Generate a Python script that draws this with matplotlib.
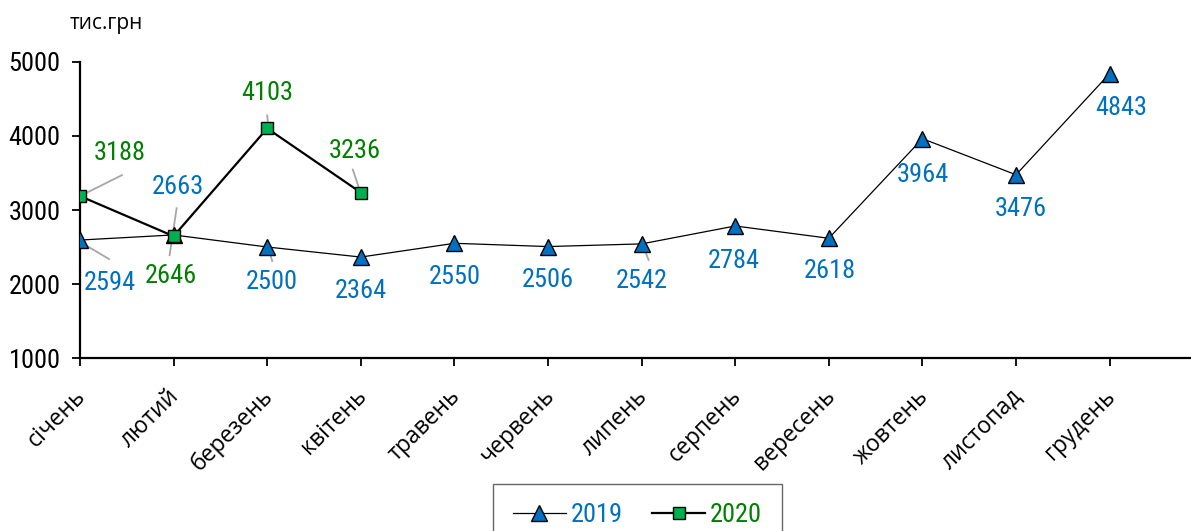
import matplotlib
matplotlib.use("Agg")
import matplotlib.pyplot as plt
from matplotlib import font_manager as fm
from matplotlib.lines import Line2D
from matplotlib.transforms import ScaledTranslation

names = {f.name for f in fm.fontManager.ttflist}
narrow = [n for n in ["Liberation Sans Narrow", "Roboto Condensed", "Open Sans Condensed"] if n in names]
NARROW = narrow + ["DejaVu Sans"] if narrow else ["DejaVu Sans"]
REG = ["Open Sans", "DejaVu Sans"]

months = ["січень", "лютий", "березень", "квітень", "травень", "червень",
          "липень", "серпень", "вересень", "жовтень", "листопад", "грудень"]
v2019 = [2594, 2663, 2500, 2364, 2550, 2506, 2542, 2784, 2618, 3964, 3476, 4843]
v2020 = [3188, 2646, 4103, 3236]
yticks = [1000, 2000, 3000, 4000, 5000]

BLUE = "#0070C0"
GREEN_M = "#00B050"
GREEN_T = "#008000"
LEAD = "#A6A6A6"

fig = plt.figure(figsize=(11.91, 5.31), dpi=100)
ax = fig.add_axes([80/1191, 173/531, 1111/1191, (358-62)/531])

x19 = list(range(len(v2019)))
x20 = list(range(len(v2020)))
l19, = ax.plot(x19, v2019, color="black", lw=0.9, marker="^", ms=11,
               mfc=BLUE, mec="black", mew=1.0, label="2019", zorder=3)
l20, = ax.plot(x20, v2020, color="black", lw=1.6, marker="s", ms=8.5,
               mfc=GREEN_M, mec="black", mew=1.0, label="2020", zorder=4)

ax.set_xlim(0, 1111/93.6)
ax.set_ylim(1000, 5000)
ax.set_yticks(yticks)
ax.set_xticks(x19)
ax.set_xticklabels(months, rotation=45, ha="right", rotation_mode="anchor",
                   fontsize=16.5, family=REG)
ax.set_yticklabels([str(t) for t in yticks], family=NARROW, fontsize=19)
ax.tick_params(axis="x", length=6, width=1.3, pad=13, direction="out")
ax.tick_params(axis="y", length=6, width=1.3, pad=8, direction="out")
shift = ScaledTranslation(-6/100, 0, fig.dpi_scale_trans)
for lab in ax.get_xticklabels():
    lab.set_transform(lab.get_transform() + shift)
for s in ["top", "right"]:
    ax.spines[s].set_visible(False)
for s in ["left", "bottom"]:
    ax.spines[s].set_linewidth(1.6)

# label offsets (pixels) for 2019 and 2020
off19 = [(30, -43), (4, 48), (5, -35), (0, -34), (0, -34), (0, -33),
         (0, -37), (-1, -35), (1, -33), (0, -36), (5, -34), (12, -34)]
off20 = [(40, 43), (-3, -40), (0, 35), (-6, 42)]
lead19 = {0: ((2, -3), (29, -19)), 2: ((2, -4), (5, -14)), 6: ((1, -1), (7, -16))}
lead20 = {0: ((2, 1), (42, 21)), 1: ((3, 28), (-4, -19)), 2: ((0, 13), (1, 3)),
          3: ((-8, 23), (-1, 2))}

for i, v in enumerate(v2019):
    dx, dy = off19[i]
    ax.annotate(str(v), (i, v), xytext=(dx, dy), textcoords="offset pixels",
                ha="center", va="center", color=BLUE, fontsize=19,
                family=NARROW, annotation_clip=False)
for i, v in enumerate(v2020):
    dx, dy = off20[i]
    ax.annotate(str(v), (i, v), xytext=(dx, dy), textcoords="offset pixels",
                ha="center", va="center", color=GREEN_T, fontsize=19,
                family=NARROW, annotation_clip=False)

def seg(i, v, a, b):
    p0 = ax.transData.transform((i, v))
    ln = Line2D([p0[0] + a[0], p0[0] + b[0]], [p0[1] + a[1], p0[1] + b[1]],
                color=LEAD, lw=1.3, transform=None, zorder=2)
    ax.add_line(ln)

fig.canvas.draw()
for i, (a, b) in lead19.items():
    seg(i, v2019[i], a, b)
for i, (a, b) in lead20.items():
    seg(i, v2020[i], a, b)

fig.text(70/1191, 1 - 23/531, "тис.грн", ha="left", va="center",
         fontsize=15, family=REG)

leg = fig.legend(handles=[l19, l20], loc="upper left",
                 bbox_to_anchor=(493/1191, 1 - 489/531, 289/1191, 0.01),
                 mode="expand", borderaxespad=0, ncol=2,
                 frameon=True, fancybox=False, edgecolor="#404040",
                 prop={"family": NARROW, "size": 19},
                 handlelength=2.0, columnspacing=1.1, borderpad=0.75,
                 handletextpad=0.2)
leg.get_frame().set_linewidth(1.0)
for t, c in zip(leg.get_texts(), [BLUE, GREEN_T]):
    t.set_color(c)

fig.savefig("out.png", dpi=100)
